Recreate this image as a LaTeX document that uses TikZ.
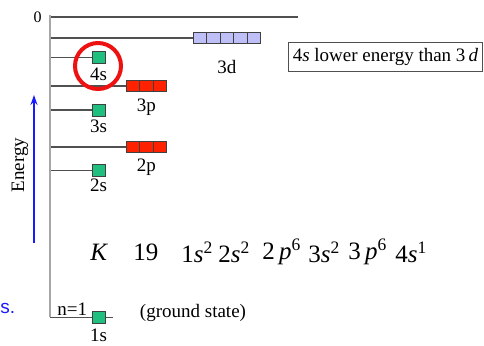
\documentclass[tikz,border=0pt]{standalone}
\usepackage{fontspec}
\setmainfont{Liberation Serif}
\newfontfamily\sansfont{Liberation Sans}
\usetikzlibrary{positioning,arrows.meta}
\definecolor{levgray}{HTML}{505050}
\definecolor{axgray}{HTML}{A6A6A6}
\definecolor{sgreen}{HTML}{1FBF80}
\definecolor{pred}{HTML}{FF2200}
\definecolor{dlav}{HTML}{BFBFF7}
\definecolor{ringred}{HTML}{EE1111}
\definecolor{enblue}{HTML}{1A1AFF}

\begin{document}
\begin{tikzpicture}[x=0.5pt, y=-0.5pt,
  lev/.style={draw=levgray, line width=1pt},
  thinlev/.style={draw=levgray, line width=0.65pt},
  sbox/.style={draw=black!75, line width=0.4pt, fill=sgreen, minimum width=6.5pt,
               minimum height=6pt, inner sep=0},
  pcell/.style={draw=black!75, line width=0.4pt, fill=pred, minimum width=6.78pt,
                minimum height=5.5pt, inner sep=0},
  dcell/.style={pcell, fill=dlav, minimum width=6.75pt, minimum height=5.3pt},
  lab/.style={font=\fontsize{9.5}{11}\selectfont, inner sep=0},
  conf/.style={font=\fontsize{12.5}{14}\selectfont, inner sep=0, anchor=west}]
\useasboundingbox (0,0) rectangle (484,345);
% axis and zero level
\coordinate (ax) at (50,0);
\coordinate (axtop) at (50,15);
\coordinate (axbot) at (50,317.3);
\coordinate (zero) at (298,16.7);
\draw[lev] (ax |- zero) -- (zero);
\node[lab, font=\fontsize{8}{9}\selectfont] (zlab) at (37.5,17) {0};
% 1s line runs past its box
\coordinate (e1) at (113,317.3);
\draw[thinlev] (ax |- e1) -- (e1);
% s levels
\foreach \n/\y in {s4/57.7, s3/110, s2/170.7, s1/317.3}
  \node[sbox] (\n) at (98.5,\y) {};
\foreach \n in {s4, s3, s2}
  \draw[thinlev] (ax |- \n.west) -- (\n.west);
% p and d levels
\foreach \i in {0,1,2} {
  \node[pcell] (pA\i) at (132.8+\i*13.56, 86) {};
  \node[pcell] (pB\i) at (132.8+\i*13.56, 147.3) {};
}
\foreach \i in {0,...,4}
  \node[dcell] (d\i) at (200+\i*13.5, 38) {};
\draw[lev] (ax |- pA0.west) -- (pA0.west);
\draw[lev] (ax |- pB0.west) -- (pB0.west);
\draw[lev] (ax |- d0.west) -- (d0.west);
\draw[axgray, line width=1pt] (axtop) -- (axbot);
% labels
\node[lab, below=1.7pt of s4] (l4s) {4s};
\node[lab, below=1.5pt of s3] (l3s) {3s};
\node[lab, below=0.8pt of s2] (l2s) {2s};
\node[lab, below=2.4pt of s1] (l1s) {1s};
\node[lab, below=3.3pt of pA1] (l3p) {3p};
\node[lab, below=2.6pt of pB1] (l2p) {2p};
\node[lab, below=8.3pt of d2] (l3d) {3d};
\node[lab, anchor=south west] (n1) at (57,316) {n=1};
\node[lab] (gs) at (193,313) {(ground state)};
% the 4s remark
\node[draw=ringred, line width=2pt, circle, minimum size=23pt, inner sep=0] (ring) at (98,66) {};
\node[lab, draw=levgray, line width=0.5pt, inner xsep=2.2pt, minimum height=14.5pt]
  (note) at (385.5,56.5) {4\textit{s} lower energy than 3\,\textit{d}};
% energy arrow
\coordinate (en0) at (34,243);
\coordinate (en1) at (34,95);
\draw[enblue, line width=0.8pt, -{Stealth[length=5pt, width=3.5pt]}] (en0) -- (en1);
\node[lab, rotate=90] (elab) at (20,165) {Energy};
\node[font=\sansfont\fontsize{9.5}{11}\selectfont, text=enblue, inner sep=0, anchor=west]
  (cut) at (0,308) {s.};
% configuration
\foreach \t/\x [count=\k] in {\textit{K}/90, 19/133,
    1\textit{s}\textsuperscript{2}/181, 2\textit{s}\textsuperscript{2}/218,
    2\,\textit{p}\textsuperscript{6}/262, 3\textit{s}\textsuperscript{2}/308,
    3\,\textit{p}\textsuperscript{6}/348, 4\textit{s}\textsuperscript{1}/395}
  \node[conf] (cf\k) at (\x,252) {\t};
\end{tikzpicture}
\end{document}
